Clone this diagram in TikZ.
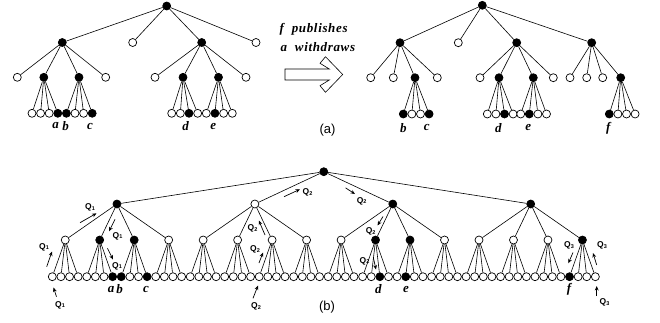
\documentclass[tikz,border=0pt]{standalone}
\usepackage{fontspec}
\setmainfont{Liberation Serif}
\newfontfamily\arialf{Liberation Sans}
\newfontfamily\spacedserif{Liberation Serif}[LetterSpace=5]
\usetikzlibrary{arrows.meta}
\newcommand\Qsub[1]{Q\raisebox{-0.4pt}{\fontsize{5.5}{5.5}\selectfont #1}}
\tikzset{
  hol/.style={circle, draw, fill=white, inner sep=0pt, minimum size=8pt, line width=0.7pt},
  ful/.style={hol, fill=black},
  fb/.style={fill=black},
  edg/.style={line width=0.6pt},
  lab/.style={font=\fontsize{13}{13}\selectfont\bfseries\itshape, inner sep=0pt},
  ttext/.style={font=\spacedserif\fontsize{13}{13}\selectfont\bfseries\itshape, inner sep=0pt},
  captext/.style={font=\arialf\fontsize{13}{13}\selectfont, inner sep=0pt},
  qlab/.style={font=\arialf\bfseries\fontsize{8.5}{8.5}\selectfont, inner sep=0pt},
  qarr/.style={-{Stealth[length=4.5pt,width=3.8pt]}, line width=0.7pt},
  bigarrow/.style={draw, line width=0.6pt, fill=white},
  % filled nodes of tree (b)
  bL7/.style=fb, bL8/.style=fb, bL11/.style=fb, bL38/.style=fb, bL41/.style=fb, bL60/.style=fb,
  bM1/.style=fb, bM2/.style=fb, bM9/.style=fb, bM10/.style=fb, bM15/.style=fb,
  bK0/.style=fb, bK2/.style=fb, bK3/.style=fb,
}
\begin{document}
\begin{tikzpicture}[x=1pt,y=-1pt]
\useasboundingbox (0,0) rectangle (660,322);

% ================= (a) left tree =================
\node[ful] (lr) at (166.7,6) {};
\node[ful] (lA) at (62.3,42.5) {};
\node[hol] (lB) at (132.7,42.5) {};
\node[ful] (lC) at (201.7,42.5) {};
\node[hol] (lD) at (256,42.5) {};
\node[hol] (lA1) at (17.3,77.3) {};
\node[ful] (lA2) at (43.8,77.3) {};
\node[ful] (lA3) at (79,77.3) {};
\node[hol] (lA4) at (105.7,77.3) {};
\node[hol] (lC1) at (155,77.3) {};
\node[ful] (lC2) at (183,77.3) {};
\node[ful] (lC3) at (218.5,77.3) {};
\node[hol] (lC4) at (246,77.3) {};
% leaves
\foreach \i/\s in {1/hol,2/hol,3/hol,4/ful}{
  \node[\s] (lA2\i) at ({32+8.6*(\i-1)},113.3) {};}
\foreach \i/\s in {1/ful,2/hol,3/hol,4/ful}{
  \node[\s] (lA3\i) at ({66.4+8.6*(\i-1)},113.3) {};}
\foreach \i/\s in {1/hol,2/hol,3/ful,4/hol}{
  \node[\s] (lC2\i) at ({171.7+8.66*(\i-1)},113.3) {};}
\foreach \i/\s in {1/hol,2/ful,3/hol,4/hol}{
  \node[\s] (lC3\i) at ({206.3+8.66*(\i-1)},113.3) {};}
\foreach \c in {A,B,C,D}{\draw[edg] (lr) -- (l\c);}
\foreach \c in {A,C}{\foreach \j in {1,...,4}{\draw[edg] (l\c) -- (l\c\j);}}
\foreach \p in {A2,A3,C2,C3}{\foreach \j in {1,...,4}{\draw[edg] (l\p) -- (l\p\j);}}
\node[lab] (la) at (55.5,126) {a};
\node[lab] (lb) at (65.7,126) {b};
\node[lab] (lc) at (90,126) {c};
\node[lab] (ld) at (185.5,126) {d};
\node[lab] (le) at (213.3,126) {e};

% ================= transition =================
\node[ttext, anchor=west] (t1) at (279.5,29) {f\ \ publishes};
\node[ttext, anchor=west] (t2) at (280.5,47.5) {a\ \ withdraws};
\draw[bigarrow] (285,69) -- (329.3,69) -- (320,63.3) -- (325.5,56.7) -- (342.7,74.5)
  -- (325.5,92.3) -- (320,85.7) -- (329.3,80) -- (285,80) -- cycle;
\node[captext] (capa) at (327.5,130) {(a)};

% ================= (a) right tree =================
\node[ful] (rr) at (482.3,5.3) {};
\node[ful] (rA) at (400,42.7) {};
\node[hol] (rB) at (458.3,42.7) {};
\node[ful] (rC) at (516.7,42.7) {};
\node[ful] (rD) at (591.7,42.7) {};
\foreach \j/\x/\s in {1/370.7/hol,2/393.3/hol,3/415/ful,4/437.3/hol}{
  \node[\s] (rA\j) at (\x,77.7) {};}
\foreach \j/\x/\s in {1/480/hol,2/499/ful,3/533.3/ful,4/553.3/hol}{
  \node[\s] (rC\j) at (\x,77.7) {};}
\foreach \j/\x/\s in {1/570/hol,2/586.7/hol,3/602.7/hol,4/620.7/ful}{
  \node[\s] (rD\j) at (\x,77.7) {};}
\foreach \i/\s in {1/ful,2/hol,3/hol,4/ful}{
  \node[\s] (rA3\i) at ({403.3+8.6*(\i-1)},114) {};}
\foreach \i/\s in {1/hol,2/hol,3/ful,4/hol}{
  \node[\s] (rC2\i) at ({487.3+8.6*(\i-1)},114) {};}
\foreach \i/\s in {1/hol,2/ful,3/hol,4/hol}{
  \node[\s] (rC3\i) at ({520.7+8.6*(\i-1)},114) {};}
\foreach \i/\s in {1/ful,2/hol,3/hol,4/hol}{
  \node[\s] (rD4\i) at ({609.3+8.6*(\i-1)},114) {};}
\foreach \c in {A,B,C,D}{\draw[edg] (rr) -- (r\c);}
\foreach \c in {A,C,D}{\foreach \j in {1,...,4}{\draw[edg] (r\c) -- (r\c\j);}}
\foreach \p in {A3,C2,C3,D4}{\foreach \j in {1,...,4}{\draw[edg] (r\p) -- (r\p\j);}}
\node[lab] (rb) at (403.3,127.7) {b};
\node[lab] (rc) at (426.7,127.7) {c};
\node[lab] (rd) at (498.3,127.7) {d};
\node[lab] (re) at (528.3,127.7) {e};
\node[lab] (rf) at (608.3,128.5) {f};

% ================= (b) tree =================
\node[ful] (bR) at (323.8,171.7) {};
\foreach \k in {0,...,3}{
  \node[hol, bK\k/.try] (bK\k) at ({116.95+137.92*\k},204) {};}
\foreach \j in {0,...,15}{
  \node[hol, bM\j/.try] (bM\j) at ({65.23+34.48*\j},240) {};}
\foreach \i in {0,...,63}{
  \node[hol, bL\i/.try] (bL\i) at ({52.3+8.62*\i},276.7) {};}
\foreach \k in {0,...,3}{\draw[edg] (bR) -- (bK\k);}
\foreach \k in {0,...,3}{\foreach \m in {0,...,3}{
  \pgfmathtruncatemacro\jj{4*\k+\m}
  \draw[edg] (bK\k) -- (bM\jj);}}
\foreach \j in {0,...,15}{\foreach \m in {0,...,3}{
  \pgfmathtruncatemacro\ii{4*\j+\m}
  \draw[edg] (bM\j) -- (bL\ii);}}
\node[lab] (ba) at (111,289.5) {a};
\node[lab] (bb) at (119.5,289.5) {b};
\node[lab] (bc) at (146,289.5) {c};
\node[lab] (bd) at (378.3,289) {d};
\node[lab] (be) at (406,289) {e};
\node[lab] (bf) at (569,289) {f};
\node[captext] (capb) at (327,306.7) {(b)};

% Q1
\coordinate (q1a0) at (80,222.7); \coordinate (q1a1) at (96.5,213.3);
\draw[qarr] (q1a0) -- (q1a1); \node[qlab] (q1a) at (90,207.8) {\Qsub{1}};
\coordinate (q1b0) at (115,219.3); \coordinate (q1b1) at (109,231.3);
\draw[qarr] (q1b0) -- (q1b1); \node[qlab] (q1b) at (117.5,236) {\Qsub{1}};
\coordinate (q1c0) at (107.5,248.3); \coordinate (q1c1) at (113,259.5);
\draw[qarr] (q1c0) -- (q1c1); \node[qlab] (q1c) at (117,266.3) {\Qsub{1}};
\coordinate (q1d0) at (46.7,266.7); \coordinate (q1d1) at (52,251.5);
\draw[qarr] (q1d0) -- (q1d1); \node[qlab] (q1d) at (44,247.2) {\Qsub{1}};
\coordinate (q1e0) at (56.5,296.7); \coordinate (q1e1) at (53.5,287.5);
\draw[qarr] (q1e0) -- (q1e1); \node[qlab] (q1e) at (60,305) {\Qsub{1}};
% Q2
\coordinate (q2a0) at (284,196.7); \coordinate (q2a1) at (300,189.3);
\draw[qarr] (q2a0) -- (q2a1); \node[qlab] (q2a) at (307.5,192.5) {\Qsub{2}};
\coordinate (q2b0) at (345.5,187.8); \coordinate (q2b1) at (355,194);
\draw[qarr] (q2b0) -- (q2b1); \node[qlab] (q2b) at (361.7,201) {\Qsub{2}};
\coordinate (q2c0) at (265,235); \coordinate (q2c1) at (258.8,220.5);
\draw[qarr] (q2c0) -- (q2c1); \node[qlab] (q2c) at (252.5,228.8) {\Qsub{2}};
\coordinate (q2d0) at (259,263); \coordinate (q2d1) at (263,252.5);
\draw[qarr] (q2d0) -- (q2d1); \node[qlab] (q2d) at (255,249.5) {\Qsub{2}};
\coordinate (q2e0) at (253,298.3); \coordinate (q2e1) at (258,285.5);
\draw[qarr] (q2e0) -- (q2e1); \node[qlab] (q2e) at (256,306.7) {\Qsub{2}};
\coordinate (q2f0) at (383,216.5); \coordinate (q2f1) at (377.5,225.5);
\draw[qarr] (q2f0) -- (q2f1); \node[qlab] (q2f) at (370.7,231.7) {\Qsub{2}};
\coordinate (q2g0) at (373.3,257.5); \coordinate (q2g1) at (376,269.5);
\draw[qarr] (q2g0) -- (q2g1); \node[qlab] (q2g) at (364.5,261.3) {\Qsub{2}};
% Q3
\coordinate (q3a0) at (573,252.5); \coordinate (q3a1) at (568.3,263.3);
\draw[qarr] (q3a0) -- (q3a1); \node[qlab] (q3a) at (569,245.8) {\Qsub{3}};
\coordinate (q3b0) at (596.7,265); \coordinate (q3b1) at (593,253);
\draw[qarr] (q3b0) -- (q3b1); \node[qlab] (q3b) at (602,245.8) {\Qsub{3}};
\coordinate (q3c0) at (596.7,296); \coordinate (q3c1) at (596.7,286);
\draw[qarr] (q3c0) -- (q3c1); \node[qlab] (q3c) at (604.5,302.5) {\Qsub{3}};
\end{tikzpicture}
\end{document}
